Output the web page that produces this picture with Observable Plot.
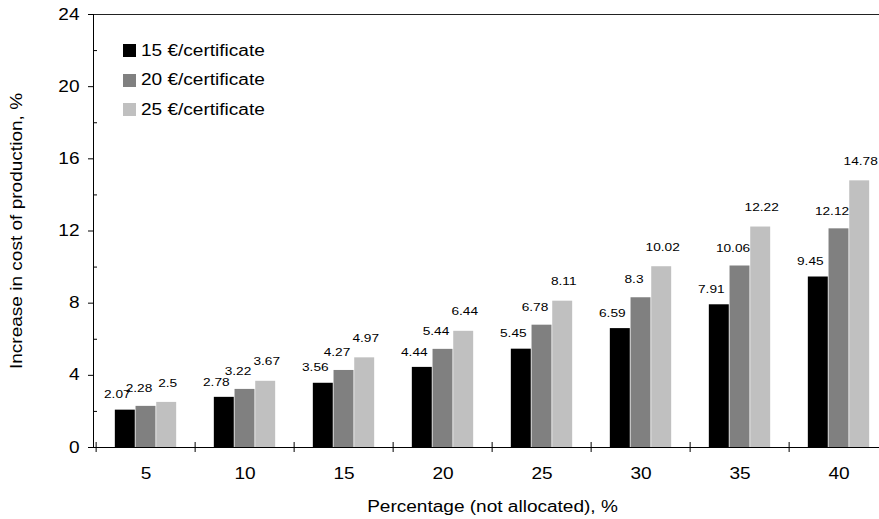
<!DOCTYPE html>
<html>
<head>
<meta charset="utf-8">
<script src="https://cdn.jsdelivr.net/npm/d3@7"></script>
<script src="https://cdn.jsdelivr.net/npm/@observablehq/plot@0.6"></script>
<style>
  body { margin: 0; background: #fff; }
  #wrap { position: relative; width: 879px; height: 519px; font-family: "Liberation Sans", Arial, sans-serif; }
  #legend { position: absolute; left: 123px; top: 36px; }
  .row { display: flex; align-items: center; height: 29.5px; }
  .sw { width: 13px; height: 13px; flex: none; }
  .lab { font-size: 16px; color: #000; margin-left: 5px; transform: scaleX(1.19); transform-origin: left center; white-space: nowrap; }
</style>
</head>
<body>
<div id="wrap"></div>
<script>
// ---- data ----
const categories = ["5", "10", "15", "20", "25", "30", "35", "40"];
const seriesNames = ["15 €/certificate", "20 €/certificate", "25 €/certificate"];
const price15 = [2.07, 2.78, 3.56, 4.44, 5.45, 6.59, 7.91, 9.45];
const price20 = [2.28, 3.22, 4.27, 5.44, 6.78, 8.3, 10.06, 12.12];
const price25 = [2.5, 3.67, 4.97, 6.44, 8.11, 10.02, 12.22, 14.78];
const majorTicks = [0, 4, 8, 12, 16, 20, 24];
const minorTicks = [2, 6, 10, 14, 18, 22];
const colors = ["#000000", "#808080", "#c0c0c0"];

const seriesValues = [price15, price20, price25];
const rows = seriesValues.map((vals, s) =>
  categories.map((c, i) => ({cat: c, series: seriesNames[s], value: vals[i]}))
);

// ---- layout ----
const W = 879, H = 519;
const mL = 93, mR = -12, mT = 14, mB = 72;
const bw = (W - mR - mL) / categories.length;
const barW = bw * 0.2075;
const start = (bw - 3 * barW) / 2;
const labelNudgeX = [-8, -7, 1];
const labelLift = [-15.5, -18, -19.5];
const font = "Liberation Sans, Arial, sans-serif";

const marks = [];
rows.forEach((data, s) => {
  const insetLeft = start + s * barW;
  const insetRight = bw - insetLeft - barW;
  marks.push(Plot.barY(data, {x: "cat", y: "value", fill: colors[s], insetLeft, insetRight}));
});
rows.forEach((data, s) => {
  const center = start + s * barW + barW / 2 - bw / 2;
  marks.push(Plot.text(data, {
    x: "cat", y: "value", text: d => String(d.value),
    dx: center + labelNudgeX[s], dy: labelLift[s], fontSize: 11.5, fill: "#000", lineAnchor: "middle"
  }));
});
marks.push(
  Plot.ruleY([0], {stroke: "#000"}),
  Plot.frame({anchor: "top", stroke: "#222"}),
  Plot.frame({anchor: "left", stroke: "#000"}),
  Plot.axisY({ticks: majorTicks, tickSize: 5, tickPadding: 9, fontSize: 16, label: "Increase in cost of production, %", labelAnchor: "center", labelArrow: false, labelOffset: 83, fill: "#000"}),
  Plot.axisY({ticks: minorTicks, tickSize: 4, dx: 4, tickFormat: () => "", label: null}),
  Plot.axisX({tickSize: 10, dy: -5, dx: -bw / 2, tickFormat: () => "", label: null}),
  Plot.axisX({tickSize: 0, tickPadding: 20, fontSize: 16, label: "Percentage (not allocated), %", labelAnchor: "center", labelArrow: false, labelOffset: 64, fill: "#000"})
);

const chart = Plot.plot({
  width: W, height: H,
  marginLeft: mL, marginRight: mR, marginTop: mT, marginBottom: mB,
  style: {fontFamily: font, background: "#fff", color: "#000", overflow: "hidden"},
  x: {domain: categories, padding: 0},
  y: {domain: [0, 24]},
  marks
});

// widen glyphs to match the reference's wide sans rendering
const S = 1.19;
chart.querySelectorAll("text").forEach(t => {
  const tr = t.getAttribute("transform") || "";
  let pre = "";
  const xa = t.getAttribute("x");
  if (xa != null && xa !== "" && !isNaN(+xa)) { pre += ` translate(${+xa},0)`; t.removeAttribute("x"); }
  const ya = t.getAttribute("y");
  if (ya != null && ya !== "" && !isNaN(+ya)) { pre += ` translate(0,${+ya})`; t.removeAttribute("y"); }
  t.setAttribute("transform", `${tr}${pre} scale(${S},1)`.trim());
});

const wrap = document.getElementById("wrap");
wrap.appendChild(chart);

// legend
const legend = document.createElement("div");
legend.id = "legend";
seriesNames.forEach((name, i) => {
  const row = document.createElement("div");
  row.className = "row";
  const sw = document.createElement("span");
  sw.className = "sw";
  sw.style.background = colors[i];
  const lab = document.createElement("span");
  lab.className = "lab";
  lab.textContent = name;
  row.appendChild(sw); row.appendChild(lab);
  legend.appendChild(row);
});
wrap.appendChild(legend);
</script>
</body>
</html>
